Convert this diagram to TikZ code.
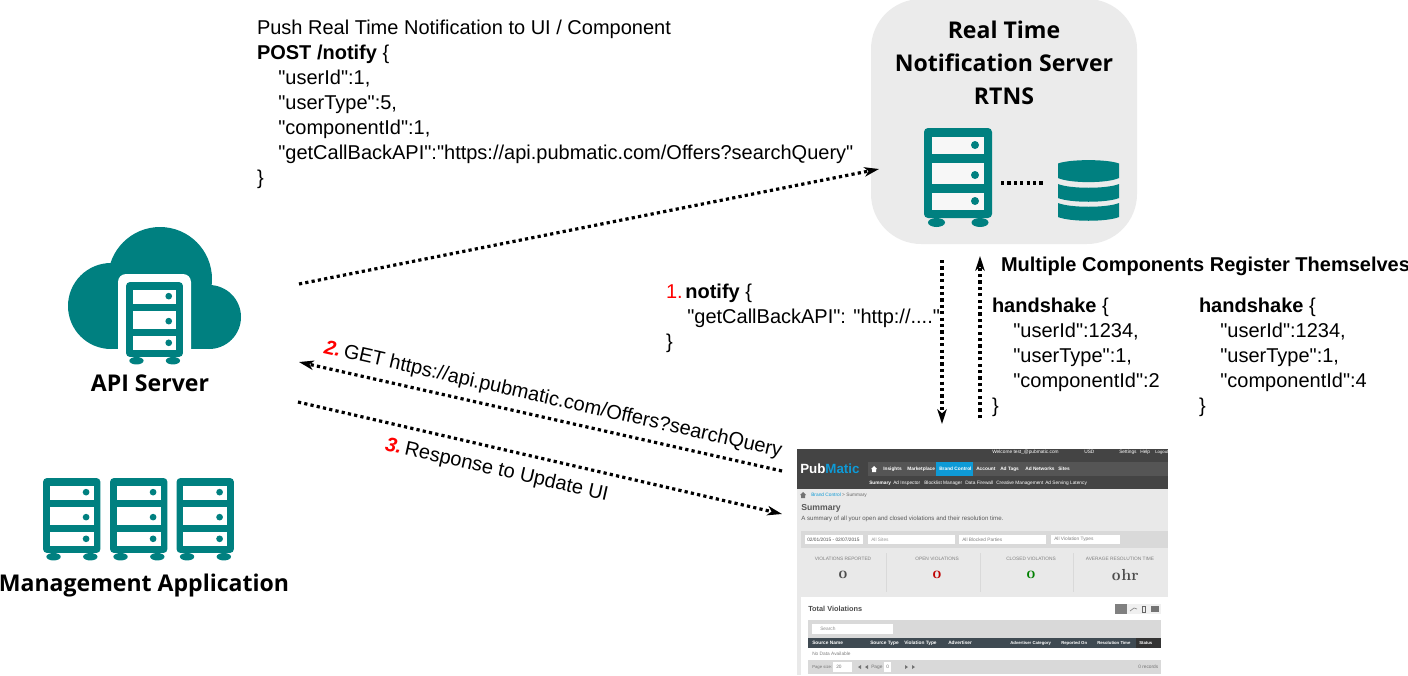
\documentclass[tikz,border=0pt]{standalone}
\usepackage{fontspec}
\setmainfont{Liberation Sans}[Ligatures=TeXOff]
\newfontfamily\titlefont{Open Sans}
\newfontfamily\oldf{Latin Modern Roman}[Numbers=OldStyle]
\usetikzlibrary{arrows.meta,calc}
\definecolor{teal1}{HTML}{008080}
\definecolor{panelg}{HTML}{EBEBEB}
\definecolor{shotbg}{HTML}{E9E9E9}
\definecolor{shotdark}{HTML}{444444}
\definecolor{shotnav}{HTML}{555555}
\definecolor{shotblue}{HTML}{0E9AD6}
\definecolor{shotmid}{HTML}{D9D9D9}
\definecolor{shothead}{HTML}{3F4A52}
\newcommand{\srvicon}[2]{%
 \begin{scope}[#1]
  \fill[teal1] (12.5,94.5) ellipse (8.5 and 4.5);
  \fill[teal1] (56,94.5) ellipse (8.5 and 4.5);
  \fill[teal1,rounded corners=3] (0,0) rectangle (68,90);
  \fill[#2] (8,9) rectangle (60,26);
  \fill[#2] (8,35) rectangle (60,56);
  \fill[#2] (8,65) rectangle (60,82);
  \fill[teal1] (51,17) circle (4);
  \fill[teal1] (51,47) circle (4);
  \fill[teal1] (51,73) circle (4);
 \end{scope}}
\newcommand{\house}[2]{%
 \fill[#2] ($(#1)+(-3,0)$) -- ($(#1)+(0,-3)$) -- ($(#1)+(3,0)$) -- ($(#1)+(2,0)$) -- ($(#1)+(2,3)$) -- ($(#1)+(-2,3)$) -- ($(#1)+(-2,0)$) -- cycle;}
\tikzset{
 x=0.75pt,y=-0.75pt,
 label/.style={inner sep=0pt,outer sep=0pt,align=left,text=black,font=\fontsize{15}{18.75}\selectfont},
 ttl/.style={inner sep=0pt,align=center,font=\titlefont\bfseries\fontsize{17.3}{25}\selectfont},
 rot/.style={inner sep=0pt,anchor=base west,rotate=-12.8,font=\fontsize{15}{17}\selectfont},
 flow/.style={line width=2.4pt,dash pattern=on 2.4pt off 2.4pt,-{Stealth[length=11pt,width=7pt,inset=3pt]}},
 plainflow/.style={line width=2.4pt,dash pattern=on 2.4pt off 2.4pt},
 tiny/.style={inner sep=0pt,anchor=west,font=\fontsize{3.6}{4}\selectfont},
 tinyb/.style={tiny,font=\bfseries\fontsize{3.6}{4}\selectfont},
 stat/.style={inner sep=0pt,font=\oldf\bfseries\fontsize{12}{12}\selectfont},
}
\newcommand{\red}[1]{\textcolor{red}{#1}}
\begin{document}
\begin{tikzpicture}
\useasboundingbox (0,0) rectangle (1408,675);
% RTNS panel
\fill[panelg,rounded corners=37.5pt] (871,-1) rectangle (1137,244);
\node[ttl] (rtns) at (1004,63) {Real Time\\Notification Server\\RTNS};
\srvicon{shift={(924,128)}}{white!60!panelg}
\coordinate (dotA) at (1001,183);
\coordinate (dotB) at (1043,183);
\draw[plainflow] (dotA) -- (dotB);
% database
\fill[teal1] (1058,163.5) .. controls (1070,159) and (1107,159) .. (1119,163.5) -- (1119,178) .. controls (1107,183.5) and (1070,183.5) .. (1058,178) -- cycle;
\fill[teal1] (1058,184) .. controls (1070,189) and (1107,189) .. (1119,184) -- (1119,198) .. controls (1107,203) and (1070,203) .. (1058,198) -- cycle;
\fill[teal1] (1058,203) .. controls (1070,208) and (1107,208) .. (1119,203) -- (1119,217) .. controls (1107,222) and (1070,222) .. (1058,217) -- cycle;
% cloud
\fill[teal1] (111,306) circle (43);
\fill[teal1] (160,279) circle (52);
\fill[teal1] (209,317) circle (32);
\fill[teal1] (111,300) rectangle (209,349);
\fill[white,rounded corners=6] (118,274) rectangle (191,365);
\srvicon{shift={(126,282)},xscale=0.838,yscale=0.833}{white}
\node[ttl] (api) at (150,383) {API Server};
% management servers
\srvicon{shift={(43,478)},xscale=0.845,yscale=0.833}{white}
\srvicon{shift={(110,478)},xscale=0.845,yscale=0.833}{white}
\srvicon{shift={(176.5,478)},xscale=0.845,yscale=0.833}{white}
\node[ttl] (mgmt) at (144,585) {Management Application};
% texts
\node[label,anchor=north west] (push) at (257,20) {Push Real Time Notification to UI / Component\\
\textbf{POST /notify} \{\\
\hspace*{16pt}"userId":1,\\
\hspace*{16pt}"userType":5,\\
\hspace*{16pt}"componentId":1,\\
\hspace*{16pt}"getCallBackAPI":"https://api.pubmatic.com/Offers?searchQuery"\\
\}};
\node[label,anchor=north west] (notify) at (666,284) {\red{1.}\hspace{2pt}\textbf{notify} \{\\
\hspace*{16pt}"getCallBackAPI": "http://...."\\
\}};
\node[label,anchor=base west,font=\bfseries\fontsize{15}{17}\selectfont] (multi) at (1001,271) {Multiple Components Register Themselves};
\node[label,anchor=north west] (hs1) at (992,298) {\textbf{handshake} \{\\
\hspace*{16pt}"userId":1234,\\
\hspace*{16pt}"userType":1,\\
\hspace*{16pt}"componentId":2\\
\}};
\node[label,anchor=north west] (hs2) at (1199,298) {\textbf{handshake} \{\\
\hspace*{16pt}"userId":1234,\\
\hspace*{16pt}"userType":1,\\
\hspace*{16pt}"componentId":4\\
\}};
\node[rot] (get) at (323,353) {\textbf{\textit{\red{2.}}}\hspace{2.6pt}GET https://api.pubmatic.com/Offers?searchQuery};
\node[rot] (resp) at (384,450) {\textbf{\textit{\red{3.}}}\hspace{2.6pt}Response to Update UI};
% screenshot
\fill[shotbg] (797,449) rectangle (1168,675);
\fill[shotdark] (797,449) rectangle (1168,489);
\fill[shotnav] (868,462) rectangle (1168,476);
\fill[shotblue] (936,462) rectangle (973,476);
\node[inner sep=0pt,anchor=west,font=\bfseries\fontsize{10}{10}\selectfont,text=white] (logo) at (800,469) {Pub\textcolor{shotblue}{Matic}};
\house{874,469}{white}
\node[tinyb,text=white] (s1) at (883,469) {Insights};
\node[tinyb,text=white] (s2) at (907,469) {Marketplace};
\node[tinyb,text=white] (s3) at (939,469) {Brand Control};
\node[tinyb,text=white] (s4) at (976,469) {Account};
\node[tinyb,text=white] (s5) at (1000,469) {Ad Tags};
\node[tinyb,text=white] (s6) at (1025,469) {Ad Networks};
\node[tinyb,text=white] (s7) at (1058,469) {Sites};
\node[tinyb,text=white] (s8) at (869,483) {Summary};
\node[tiny,text=white] (s9) at (893,483) {Ad Inspector};
\node[tiny,text=white] (s10) at (924,483) {Blocklist Manager};
\node[tiny,text=white] (s11) at (965,483) {Data Firewall};
\node[tiny,text=white] (s12) at (996,483) {Creative Management};
\node[tiny,text=white] (s13) at (1045,483) {Ad Serving Latency};
\node[tiny,text=white] (s14) at (992,452) {Welcome test\_@pubmatic.com};
\node[tiny,text=white] (s14b) at (1084,452) {USD};
\node[tiny,text=white] (s15) at (1119,452) {Settings};
\node[tiny,text=white] (s16) at (1140,452) {Help};
\node[tiny,text=white,font=\fontsize{3.2}{4}\selectfont] (s16b) at (1155,452) {Logout};
\house{803,495}{black!55}
\node[tiny,text=black!60] (s17) at (811,495) {\textcolor{shotblue}{Brand Control} > Summary};
\node[inner sep=0pt,anchor=west,font=\bfseries\fontsize{6.5}{8}\selectfont,text=black!65] (s18) at (801,508) {Summary};
\node[tiny,text=black!65,font=\fontsize{4.6}{5}\selectfont] (s19) at (801,519) {A summary of all your open and closed violations and their resolution time.};
\fill[shotmid] (801,531) rectangle (1168,548);
\fill[white] (805,535) rectangle (863,544);
\fill[white] (868,535) rectangle (955,544);
\fill[white] (959,535) rectangle (1046,544);
\fill[white] (1051,535) rectangle (1120,544);
\node[tiny,text=black!70] (s20) at (807,539.5) {02/01/2015 - 02/07/2015};
\node[tiny,text=black!40] (s21) at (871,539.5) {All Sites};
\node[tiny,text=black!50] (s22) at (962,539.5) {All Blocked Parties};
\node[tiny,text=black!50] (s23) at (1054,539.5) {All Violation Types};
\draw[shotmid,line width=0.6pt] (886,553) -- (886,592);
\draw[shotmid,line width=0.6pt] (980,553) -- (980,592);
\draw[shotmid,line width=0.6pt] (1073.5,553) -- (1073.5,592);
\node[tiny,anchor=center,text=black!50] (v1) at (843,559) {VIOLATIONS REPORTED};
\node[tiny,anchor=center,text=black!50] (v2) at (937,559) {OPEN VIOLATIONS};
\node[tiny,anchor=center,text=black!50] (v3) at (1031,559) {CLOSED VIOLATIONS};
\node[tiny,anchor=center,text=black!50] (v4) at (1120,559) {AVERAGE RESOLUTION TIME};
\node[stat,text=black!70] (n1) at (843,575) {0};
\node[stat,text=red!75!black] (n2) at (937,575) {0};
\node[stat,text=green!50!black] (n3) at (1031,575) {0};
\node[stat,text=black!70] (n4) at (1125,575) {0hr};
\fill[white] (801,597) rectangle (1168,675);
\node[inner sep=0pt,anchor=west,font=\bfseries\fontsize{5.5}{6}\selectfont,text=black!70] (tv) at (808,609) {Total Violations};
\fill[black!50] (1115,604) rectangle (1127,614);
\fill[black!6] (1127,604) rectangle (1161,614);
\draw[black!45,line width=0.5pt] (1130,611) -- (1134,608) -- (1137,609);
\draw[black!60,line width=0.7pt] (1142,606) rectangle (1145,612);
\fill[black!55] (1151,606) rectangle (1159,612);
\fill[shotmid] (808,620) rectangle (1161,638);
\fill[white] (812,624) rectangle (893,634);
\node[tiny,text=black!45] (srch) at (820,629) {Search};
\fill[shothead] (808,638) rectangle (1136,648);
\fill[black!80] (1136,638) rectangle (1161,648);
\node[tinyb,text=white] (h1) at (812,643) {Source Name};
\node[tinyb,text=white] (h2) at (870,643) {Source Type};
\node[tinyb,text=white] (h3) at (904,643) {Violation Type};
\node[tinyb,text=white] (h4) at (948,643) {Advertiser};
\node[tinyb,text=white,font=\bfseries\fontsize{3.2}{4}\selectfont] (h5) at (1010,643) {Advertiser Category};
\node[tinyb,text=white,font=\bfseries\fontsize{3.2}{4}\selectfont] (h6) at (1061,643) {Reported On};
\node[tinyb,text=white,font=\bfseries\fontsize{3.2}{4}\selectfont] (h7) at (1097,643) {Resolution Time};
\node[tinyb,text=white,font=\bfseries\fontsize{3.2}{4}\selectfont] (h8) at (1139,643) {Status};
\node[tiny,text=black!50] (nd) at (812,654) {No Data Available};
\fill[shotmid] (808,660) rectangle (1161,674);
\fill[white] (833,662) rectangle (852,672);
\fill[white] (884,662) rectangle (891,672);
\node[tiny,text=black!55,font=\fontsize{3.2}{4}\selectfont] (pg) at (812,667) {Page size:};
\node[tiny,text=black!55] (pg1) at (836,667) {20};
\node[tiny,text=black!55] (pg2) at (871,667) {Page};
\node[tiny,text=black!55] (pg3) at (886,667) {0};
\node[tiny,text=black!55] (pg4) at (1138,667) {0 records};
\fill[black!55] (861,665) -- (858,667) -- (861,669) -- cycle;
\fill[black!55] (868,665) -- (865,667) -- (868,669) -- cycle;
\fill[black!55] (905,665) -- (908,667) -- (905,669) -- cycle;
\fill[black!55] (912,665) -- (915,667) -- (912,669) -- cycle;
% connectors
\coordinate (apiA) at (299,284);
\coordinate (rtnsIn) at (879,169);
\coordinate (apiB) at (299,362);
\coordinate (uiB) at (782,471);
\coordinate (apiC) at (298,402);
\coordinate (uiC) at (782,514);
\coordinate (rtnsOut) at (942,260);
\coordinate (uiD) at (942,424);
\coordinate (uiE) at (980,418);
\coordinate (rtnsBack) at (980,256);
\draw[flow] (apiA) -- (rtnsIn);
\draw[flow] (uiB) -- (apiB);
\draw[flow] (apiC) -- (uiC);
\draw[flow] (rtnsOut) -- (uiD);
\draw[flow] (uiE) -- (rtnsBack);
\end{tikzpicture}
\end{document}
